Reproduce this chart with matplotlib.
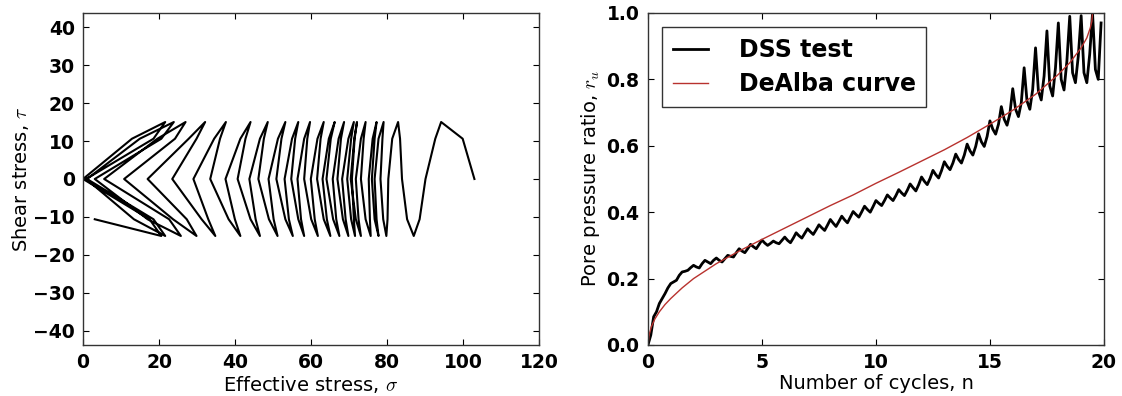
import numpy as np
import matplotlib
matplotlib.use('Agg')
import matplotlib.pyplot as plt

plt.rcParams['mathtext.fontset'] = 'cm'

# pore pressure ratio, 8 samples per loading cycle
ru_dss = [
    0.0, 0.03, 0.085, 0.10, 0.125, 0.14, 0.155, 0.172,
    0.185, 0.19, 0.195, 0.21, 0.22, 0.222, 0.225, 0.233,
    0.24, 0.235, 0.232, 0.245, 0.255, 0.25, 0.245, 0.255,
    0.262, 0.255, 0.25, 0.26, 0.27, 0.267, 0.265, 0.278,
    0.29, 0.283, 0.278, 0.29, 0.303, 0.296, 0.29, 0.303,
    0.316, 0.307, 0.30, 0.306, 0.313, 0.308, 0.305, 0.315,
    0.325, 0.315, 0.308, 0.322, 0.338, 0.329, 0.322, 0.336,
    0.35, 0.341, 0.333, 0.347, 0.362, 0.353, 0.345, 0.361,
    0.378, 0.367, 0.357, 0.372, 0.388, 0.377, 0.368, 0.385,
    0.402, 0.393, 0.385, 0.401, 0.418, 0.408, 0.40, 0.417,
    0.435, 0.427, 0.42, 0.435, 0.452, 0.443, 0.435, 0.45,
    0.468, 0.458, 0.45, 0.466, 0.485, 0.474, 0.464, 0.483,
    0.506, 0.493, 0.483, 0.502, 0.526, 0.513, 0.503, 0.525,
    0.552, 0.538, 0.528, 0.548, 0.575, 0.559, 0.548, 0.572,
    0.605, 0.585, 0.572, 0.598, 0.636, 0.612, 0.598, 0.628,
    0.675, 0.65, 0.635, 0.665, 0.718, 0.68, 0.662, 0.697,
    0.772, 0.71, 0.688, 0.73, 0.835, 0.735, 0.71, 0.77,
    0.895, 0.765, 0.738, 0.81, 0.946, 0.78, 0.75, 0.835,
    0.97, 0.8, 0.768, 0.855, 0.99, 0.82, 0.79, 0.87,
    0.992, 0.82, 0.79, 0.875, 1.0, 0.83, 0.80, 0.97,
]
samples_per_cycle = 8
n_cycles = 20

# applied shear stress over one cycle (same sample points)
tau_cycle = [0.0, 10.6, 15.0, 10.6, 0.0, -10.6, -15.0, -10.6]

# initial effective stress
sigma0 = 103.0

# DeAlba curve
n_dealba = [0, 0.05, 0.15, 0.3, 0.5, 0.75, 1, 1.5, 2, 3, 4, 5, 6, 7, 8, 9, 10,
            11, 12, 13, 14, 15, 16, 17, 18, 18.5, 19, 19.25, 19.4, 19.47, 19.5]
ru_dealba = [0, 0.03, 0.055, 0.078, 0.1, 0.122, 0.14, 0.172, 0.2, 0.245, 0.283,
             0.318, 0.352, 0.386, 0.42, 0.452, 0.487, 0.52, 0.554, 0.588, 0.625,
             0.665, 0.707, 0.755, 0.815, 0.85, 0.895, 0.925, 0.955, 0.975, 1.0]


def style_axes(ax):
    ax.tick_params(direction='in', top=True, right=True, length=4, width=0.8,
                   labelsize=13.5, pad=6)
    for lab in ax.get_xticklabels() + ax.get_yticklabels():
        lab.set_fontweight('bold')
    for sp in ax.spines.values():
        sp.set_linewidth(1.0)
        sp.set_color('#333333')


def main():
    ru = np.array(ru_dss)
    n = np.arange(len(ru)) / samples_per_cycle
    tau = np.tile(tau_cycle, n_cycles)[:len(ru)]
    sigma = sigma0 * (1.0 - ru)

    fig = plt.figure(figsize=(11.22, 3.96), dpi=100)
    ax1 = fig.add_axes([0.074, 0.1288, 0.4064, 0.8384])
    ax2 = fig.add_axes([0.5775, 0.1288, 0.4064, 0.8384])

    ax1.plot(sigma, tau, color='black', linewidth=1.5)
    ax1.set_xlim(0, 120)
    ax1.set_ylim(-43.7, 43.7)
    ax1.set_xticks([0, 20, 40, 60, 80, 100, 120])
    ax1.set_yticks([-40, -30, -20, -10, 0, 10, 20, 30, 40])
    ax1.set_xlabel(r'Effective stress, $\sigma$', fontsize=14, labelpad=1)
    ax1.set_ylabel(r'Shear stress, $\tau$', fontsize=14, labelpad=1)
    style_axes(ax1)

    ax2.plot(n, ru, color='black', linewidth=2.0, label='DSS test')
    ax2.plot(n_dealba, ru_dealba, color='#b8322e', linewidth=1.0,
             label='DeAlba curve')
    ax2.set_xlim(0, 20)
    ax2.set_ylim(0, 1.0)
    ax2.set_xticks([0, 5, 10, 15, 20])
    ax2.set_yticks([0.0, 0.2, 0.4, 0.6, 0.8, 1.0])
    ax2.set_xlabel('Number of cycles, n', fontsize=14, labelpad=1)
    ax2.set_ylabel(r'Pore pressure ratio, $r_u$', fontsize=14, labelpad=3)
    style_axes(ax2)
    leg = ax2.legend(loc='upper left', prop={'weight': 'bold', 'size': 17},
                     fancybox=False, framealpha=1, edgecolor='#333333',
                     handlelength=1.5, handletextpad=1.3, labelspacing=0.45,
                     borderpad=0.45, borderaxespad=0.6)
    leg.get_frame().set_linewidth(1.0)

    fig.savefig('out.png', dpi=100)


if __name__ == '__main__':
    main()
